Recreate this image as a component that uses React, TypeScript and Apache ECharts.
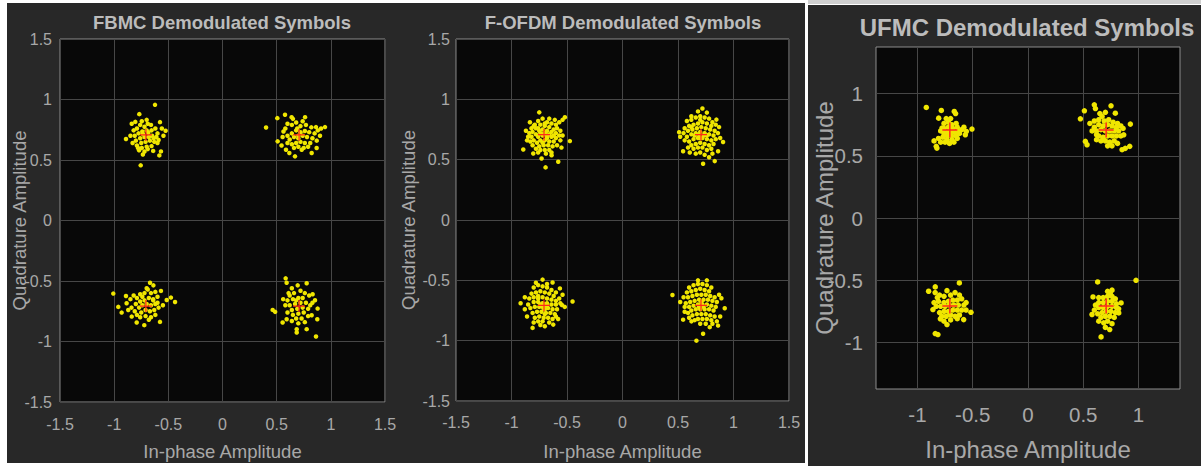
import React, { useEffect, useRef } from "react";
import * as echarts from "echarts";

// ---------- texts ----------
const TITLES = [
  "FBMC Demodulated Symbols",
  "F-OFDM Demodulated Symbols",
  "UFMC Demodulated Symbols",
];
const X_NAME = "In-phase Amplitude";
const Y_NAME = "Quadrature Amplitude";

// ---------- axes ----------
const RANGE_WIDE = [-1.5, 1.5];
const RANGE_UFMC = [-1.375, 1.375];
const TICKS_WIDE = [-1.5, -1, -0.5, 0, 0.5, 1, 1.5];
const TICKS_UFMC = [-1, -0.5, 0, 0.5, 1];

// ---------- ideal QPSK reference points ----------
const REF_POINTS = [
  [-0.7071, 0.7071],
  [0.7071, 0.7071],
  [-0.7071, -0.7071],
  [0.7071, -0.7071],
];

// ---------- FBMC demodulated symbols ----------
const fbmcTL = [[-0.623,0.956],[-0.768,0.879],[-0.755,0.456],[-0.891,0.673],[-0.525,0.742],[-0.568,0.571],[-0.583,0.538],[-0.577,0.813],[-0.838,0.799],[-0.700,0.832],[-0.745,0.820],[-0.690,0.800],[-0.660,0.790],[-0.720,0.775],[-0.790,0.760],[-0.820,0.745],[-0.850,0.700],[-0.810,0.700],[-0.775,0.720],[-0.740,0.735],[-0.700,0.745],[-0.655,0.745],[-0.620,0.760],[-0.600,0.720],[-0.560,0.760],[-0.545,0.700],[-0.610,0.690],[-0.650,0.700],[-0.680,0.690],[-0.720,0.690],[-0.760,0.680],[-0.800,0.660],[-0.830,0.640],[-0.790,0.620],[-0.750,0.640],[-0.710,0.650],[-0.670,0.660],[-0.630,0.650],[-0.600,0.640],[-0.655,0.615],[-0.700,0.610],[-0.745,0.600],[-0.770,0.580],[-0.720,0.570],[-0.690,0.590],[-0.640,0.575],[-0.735,0.715],[-0.685,0.725],[-0.760,0.790],[-0.805,0.815],[-0.635,0.680],[-0.590,0.665],[-0.735,0.545],[-0.780,0.600]];
const fbmcTR = [[0.402,0.769],[0.506,0.846],[0.577,0.874],[0.638,0.854],[0.762,0.854],[0.946,0.772],[0.863,0.772],[0.509,0.654],[0.669,0.530],[0.617,0.558],[0.586,0.585],[0.869,0.599],[0.823,0.558],[0.731,0.585],[0.563,0.736],[0.600,0.800],[0.640,0.790],[0.680,0.810],[0.720,0.780],[0.770,0.790],[0.820,0.770],[0.880,0.745],[0.910,0.760],[0.850,0.720],[0.800,0.730],[0.760,0.740],[0.720,0.730],[0.680,0.745],[0.640,0.720],[0.600,0.700],[0.555,0.690],[0.620,0.670],[0.660,0.690],[0.700,0.680],[0.740,0.700],[0.780,0.690],[0.830,0.680],[0.870,0.660],[0.900,0.700],[0.810,0.640],[0.760,0.640],[0.720,0.650],[0.680,0.640],[0.640,0.630],[0.600,0.640],[0.700,0.610],[0.750,0.600],[0.660,0.600],[0.790,0.610],[0.545,0.620],[0.700,0.700],[0.690,0.760],[0.740,0.820],[0.650,0.840],[0.580,0.760]];
const fbmcBL = [[-1.008,-0.604],[-0.962,-0.714],[-0.931,-0.761],[-0.891,-0.624],[-0.669,-0.514],[-0.638,-0.536],[-0.568,-0.582],[-0.515,-0.657],[-0.476,-0.637],[-0.438,-0.673],[-0.577,-0.838],[-0.722,-0.865],[-0.792,-0.843],[-0.838,-0.794],[-0.885,-0.684],[-0.850,-0.650],[-0.820,-0.620],[-0.790,-0.640],[-0.760,-0.610],[-0.720,-0.600],[-0.690,-0.570],[-0.660,-0.600],[-0.620,-0.590],[-0.600,-0.630],[-0.640,-0.650],[-0.680,-0.640],[-0.720,-0.660],[-0.760,-0.670],[-0.800,-0.690],[-0.840,-0.720],[-0.810,-0.750],[-0.770,-0.720],[-0.740,-0.700],[-0.700,-0.690],[-0.660,-0.700],[-0.620,-0.690],[-0.590,-0.720],[-0.630,-0.740],[-0.670,-0.750],[-0.710,-0.740],[-0.750,-0.760],[-0.790,-0.780],[-0.760,-0.800],[-0.710,-0.790],[-0.660,-0.800],[-0.620,-0.780],[-0.600,-0.680],[-0.550,-0.700],[-0.700,-0.560],[-0.740,-0.630],[-0.870,-0.740],[-0.680,-0.820],[-0.640,-0.660]];
const fbmcBR = [[0.583,-0.478],[0.592,-0.514],[0.463,-0.739],[0.486,-0.755],[0.555,-0.843],[0.685,-0.898],[0.685,-0.926],[0.777,-0.898],[0.863,-0.959],[0.875,-0.816],[0.878,-0.728],[0.854,-0.659],[0.832,-0.610],[0.777,-0.519],[0.694,-0.536],[0.592,-0.816],[0.823,-0.783],[0.640,-0.560],[0.610,-0.600],[0.660,-0.600],[0.720,-0.580],[0.760,-0.600],[0.800,-0.620],[0.740,-0.640],[0.700,-0.640],[0.650,-0.650],[0.600,-0.660],[0.580,-0.700],[0.620,-0.700],[0.670,-0.690],[0.720,-0.680],[0.770,-0.680],[0.810,-0.700],[0.790,-0.730],[0.740,-0.720],[0.690,-0.730],[0.640,-0.740],[0.600,-0.760],[0.650,-0.780],[0.700,-0.770],[0.750,-0.760],[0.790,-0.790],[0.730,-0.810],[0.680,-0.810],[0.640,-0.830],[0.700,-0.850],[0.760,-0.840],[0.620,-0.620],[0.680,-0.660],[0.560,-0.650],[0.830,-0.680]];

// ---------- F-OFDM demodulated symbols ----------
const fofdmTL = [[-0.750,0.892],[-0.894,0.584],[-0.693,0.436],[-0.579,0.483],[-0.474,0.654],[-0.519,0.851],[-0.540,0.830],[-0.834,0.810],[-0.729,0.510],[-0.804,0.551],[-0.639,0.537],[-0.820,0.760],[-0.790,0.790],[-0.760,0.820],[-0.720,0.840],[-0.680,0.810],[-0.640,0.800],[-0.600,0.790],[-0.570,0.810],[-0.590,0.760],[-0.620,0.750],[-0.660,0.770],[-0.700,0.780],[-0.740,0.790],[-0.780,0.760],[-0.810,0.730],[-0.840,0.720],[-0.850,0.690],[-0.820,0.690],[-0.780,0.710],[-0.750,0.740],[-0.720,0.750],[-0.680,0.740],[-0.640,0.730],[-0.600,0.720],[-0.570,0.700],[-0.560,0.660],[-0.600,0.680],[-0.640,0.690],[-0.680,0.700],[-0.720,0.710],[-0.760,0.690],[-0.800,0.660],[-0.830,0.650],[-0.810,0.620],[-0.770,0.640],[-0.740,0.660],[-0.700,0.660],[-0.660,0.650],[-0.620,0.650],[-0.590,0.620],[-0.630,0.610],[-0.670,0.620],[-0.710,0.620],[-0.750,0.610],[-0.780,0.590],[-0.740,0.580],[-0.700,0.580],[-0.660,0.580],[-0.640,0.560],[-0.690,0.550],[-0.720,0.700],[-0.700,0.720],[-0.740,0.720],[-0.660,0.710],[-0.620,0.700],[-0.760,0.760],[-0.700,0.800],[-0.660,0.840],[-0.610,0.830],[-0.560,0.740],[-0.540,0.700],[-0.870,0.740],[-0.860,0.660],[-0.720,0.640],[-0.680,0.680],[-0.760,0.560],[-0.800,0.780],[-0.550,0.600]];
const fofdmTR = [[0.720,0.924],[0.510,0.728],[0.906,0.646],[0.861,0.570],[0.831,0.488],[0.726,0.466],[0.546,0.570],[0.606,0.559],[0.846,0.832],[0.680,0.900],[0.760,0.890],[0.620,0.860],[0.580,0.820],[0.620,0.830],[0.660,0.850],[0.700,0.860],[0.740,0.850],[0.780,0.840],[0.810,0.810],[0.840,0.790],[0.800,0.780],[0.760,0.800],[0.720,0.810],[0.680,0.800],[0.640,0.790],[0.600,0.780],[0.560,0.760],[0.550,0.720],[0.590,0.740],[0.630,0.750],[0.670,0.760],[0.710,0.770],[0.750,0.760],[0.790,0.750],[0.830,0.740],[0.860,0.720],[0.820,0.700],[0.780,0.710],[0.740,0.720],[0.700,0.730],[0.660,0.720],[0.620,0.710],[0.580,0.690],[0.560,0.660],[0.600,0.650],[0.640,0.670],[0.680,0.680],[0.720,0.680],[0.760,0.670],[0.800,0.660],[0.840,0.670],[0.820,0.630],[0.780,0.620],[0.740,0.630],[0.700,0.640],[0.660,0.630],[0.620,0.620],[0.590,0.600],[0.640,0.590],[0.680,0.600],[0.720,0.600],[0.760,0.580],[0.800,0.590],[0.700,0.560],[0.660,0.550],[0.740,0.540],[0.780,0.520],[0.690,0.710],[0.730,0.700],[0.650,0.700],[0.700,0.680],[0.870,0.770],[0.880,0.680],[0.520,0.690],[0.700,0.830],[0.760,0.700],[0.620,0.770],[0.810,0.550]];
const fofdmBL = [[-0.720,-0.494],[-0.630,-0.518],[-0.450,-0.676],[-0.918,-0.690],[-0.810,-0.894],[-0.624,-0.867],[-0.546,-0.704],[-0.564,-0.567],[-0.880,-0.640],[-0.860,-0.800],[-0.700,-0.880],[-0.580,-0.820],[-0.800,-0.560],[-0.760,-0.540],[-0.720,-0.550],[-0.680,-0.560],[-0.640,-0.580],[-0.600,-0.600],[-0.620,-0.630],[-0.660,-0.610],[-0.700,-0.600],[-0.740,-0.590],[-0.780,-0.600],[-0.820,-0.610],[-0.840,-0.650],[-0.800,-0.640],[-0.760,-0.630],[-0.720,-0.640],[-0.680,-0.650],[-0.640,-0.660],[-0.600,-0.670],[-0.570,-0.650],[-0.560,-0.690],[-0.600,-0.700],[-0.640,-0.700],[-0.680,-0.690],[-0.720,-0.690],[-0.760,-0.680],[-0.800,-0.680],[-0.850,-0.700],[-0.830,-0.730],[-0.790,-0.720],[-0.750,-0.720],[-0.710,-0.730],[-0.670,-0.730],[-0.630,-0.740],[-0.590,-0.740],[-0.610,-0.780],[-0.650,-0.770],[-0.690,-0.770],[-0.730,-0.760],[-0.770,-0.760],[-0.810,-0.770],[-0.790,-0.810],[-0.750,-0.800],[-0.710,-0.810],[-0.670,-0.810],[-0.630,-0.820],[-0.660,-0.850],[-0.720,-0.840],[-0.760,-0.840],[-0.800,-0.850],[-0.740,-0.870],[-0.700,-0.700],[-0.720,-0.720],[-0.680,-0.710],[-0.740,-0.700],[-0.700,-0.740],[-0.520,-0.720],[-0.540,-0.620],[-0.880,-0.740],[-0.600,-0.800],[-0.780,-0.520],[-0.680,-0.530],[-0.700,-0.780],[-0.760,-0.650]];
const fofdmBR = [[0.450,-0.622],[0.666,-1.000],[0.726,-0.943],[0.861,-0.875],[0.921,-0.731],[0.891,-0.649],[0.546,-0.826],[0.786,-0.888],[0.621,-0.840],[0.880,-0.800],[0.560,-0.760],[0.600,-0.560],[0.640,-0.540],[0.680,-0.530],[0.720,-0.530],[0.760,-0.540],[0.800,-0.560],[0.780,-0.590],[0.740,-0.580],[0.700,-0.570],[0.660,-0.580],[0.620,-0.590],[0.580,-0.600],[0.550,-0.640],[0.590,-0.640],[0.630,-0.630],[0.670,-0.620],[0.710,-0.620],[0.750,-0.620],[0.790,-0.630],[0.830,-0.640],[0.850,-0.680],[0.810,-0.670],[0.770,-0.660],[0.730,-0.660],[0.690,-0.660],[0.650,-0.670],[0.610,-0.680],[0.570,-0.690],[0.560,-0.720],[0.600,-0.720],[0.640,-0.710],[0.680,-0.700],[0.720,-0.700],[0.760,-0.700],[0.800,-0.710],[0.840,-0.720],[0.820,-0.750],[0.780,-0.740],[0.740,-0.740],[0.700,-0.740],[0.660,-0.740],[0.620,-0.750],[0.590,-0.770],[0.630,-0.790],[0.670,-0.780],[0.710,-0.780],[0.750,-0.780],[0.790,-0.790],[0.830,-0.800],[0.800,-0.830],[0.760,-0.820],[0.720,-0.820],[0.680,-0.820],[0.650,-0.830],[0.700,-0.860],[0.750,-0.860],[0.810,-0.860],[0.690,-0.720],[0.730,-0.720],[0.710,-0.680],[0.760,-0.500],[0.680,-0.500],[0.870,-0.620],[0.520,-0.680],[0.850,-0.840],[0.600,-0.810]];

// ---------- UFMC demodulated symbols ----------
const ufmcTL = [[-0.920,0.889],[-0.784,0.865],[-0.808,0.803],[-0.667,0.857],[-0.655,0.840],[-0.558,0.696],[-0.507,0.715],[-0.567,0.669],[-0.830,0.576],[-0.824,0.562],[-0.733,0.629],[-0.688,0.629],[-0.778,0.723],[-0.760,0.760],[-0.720,0.770],[-0.690,0.750],[-0.650,0.760],[-0.640,0.730],[-0.680,0.720],[-0.720,0.730],[-0.760,0.720],[-0.790,0.700],[-0.760,0.680],[-0.730,0.690],[-0.700,0.690],[-0.660,0.690],[-0.630,0.700],[-0.650,0.660],[-0.690,0.660],[-0.730,0.660],[-0.770,0.650],[-0.810,0.640],[-0.790,0.610],[-0.750,0.610],[-0.710,0.600],[-0.670,0.610],[-0.640,0.640],[-0.620,0.680],[-0.600,0.710],[-0.740,0.800],[-0.700,0.800],[-0.580,0.730],[-0.850,0.620]];
const ufmcTR = [[0.474,0.798],[0.510,0.862],[0.600,0.910],[0.610,0.880],[0.751,0.902],[0.790,0.843],[0.926,0.755],[0.920,0.576],[0.851,0.549],[0.880,0.560],[0.534,0.589],[0.519,0.616],[0.866,0.669],[0.670,0.817],[0.560,0.760],[0.600,0.780],[0.640,0.790],[0.690,0.780],[0.730,0.790],[0.770,0.770],[0.810,0.760],[0.840,0.740],[0.800,0.730],[0.760,0.740],[0.720,0.750],[0.680,0.740],[0.640,0.750],[0.600,0.730],[0.580,0.700],[0.620,0.700],[0.660,0.710],[0.700,0.700],[0.740,0.700],[0.780,0.700],[0.820,0.700],[0.840,0.660],[0.800,0.660],[0.760,0.660],[0.720,0.660],[0.680,0.650],[0.640,0.660],[0.620,0.630],[0.660,0.620],[0.700,0.620],[0.740,0.610],[0.780,0.620],[0.760,0.580],[0.720,0.580],[0.810,0.600],[0.700,0.850],[0.650,0.840],[0.620,0.670],[0.860,0.720]];
const ufmcBL = [[-0.899,-0.589],[-0.839,-0.554],[-0.733,-0.584],[-0.621,-0.522],[-0.516,-0.758],[-0.582,-0.817],[-0.733,-0.857],[-0.839,-0.929],[-0.815,-0.937],[-0.793,-0.811],[-0.860,-0.736],[-0.840,-0.600],[-0.800,-0.620],[-0.760,-0.630],[-0.700,-0.620],[-0.660,-0.600],[-0.620,-0.620],[-0.600,-0.650],[-0.640,-0.660],[-0.680,-0.660],[-0.720,-0.670],[-0.760,-0.680],[-0.810,-0.670],[-0.850,-0.680],[-0.830,-0.710],[-0.790,-0.710],[-0.750,-0.710],[-0.710,-0.700],[-0.670,-0.700],[-0.630,-0.700],[-0.580,-0.700],[-0.560,-0.740],[-0.600,-0.740],[-0.640,-0.740],[-0.680,-0.740],[-0.720,-0.750],[-0.760,-0.750],[-0.800,-0.760],[-0.780,-0.790],[-0.740,-0.790],[-0.700,-0.780],[-0.660,-0.790],[-0.620,-0.780],[-0.700,-0.820],[-0.640,-0.810],[-0.760,-0.830],[-0.820,-0.640],[-0.560,-0.680]];
const ufmcBR = [[0.977,-0.501],[0.630,-0.514],[0.588,-0.635],[0.661,-0.956],[0.739,-0.897],[0.842,-0.683],[0.821,-0.763],[0.745,-0.602],[0.579,-0.776],[0.685,-0.843],[0.760,-0.580],[0.720,-0.590],[0.640,-0.640],[0.680,-0.640],[0.720,-0.630],[0.760,-0.630],[0.790,-0.650],[0.800,-0.690],[0.760,-0.670],[0.720,-0.670],[0.680,-0.680],[0.640,-0.680],[0.610,-0.700],[0.600,-0.740],[0.640,-0.720],[0.680,-0.720],[0.720,-0.710],[0.760,-0.710],[0.800,-0.720],[0.790,-0.760],[0.750,-0.750],[0.710,-0.750],[0.670,-0.760],[0.630,-0.770],[0.660,-0.800],[0.700,-0.790],[0.740,-0.790],[0.780,-0.800],[0.720,-0.830],[0.760,-0.850],[0.700,-0.880],[0.640,-0.830],[0.820,-0.730]];

const PANEL_DATA = [
  [...fbmcTL, ...fbmcTR, ...fbmcBL, ...fbmcBR],
  [...fofdmTL, ...fofdmTR, ...fofdmBL, ...fofdmBR],
  [...ufmcTL, ...ufmcTR, ...ufmcBL, ...ufmcBR],
];
const PANEL_RANGES = [RANGE_WIDE, RANGE_WIDE, RANGE_UFMC];
const PANEL_TICKS = [TICKS_WIDE, TICKS_WIDE, TICKS_UFMC];

// ---------- layout / style (not data) ----------
const FONT = "'Liberation Sans', Arial, Helvetica, sans-serif";
const LAYOUT = [
  { left: 60, top: 39, width: 325, height: 364, titleX: 222, titleY: 13, titleSize: 18.5, tick: 16, nameSize: 18.5, xMargin: 14, yMargin: 8, xGap: 40, yGap: 31, dot: 4.5, cross: 12 },
  { left: 456, top: 39, width: 333, height: 365, titleX: 623, titleY: 13, titleSize: 18.5, tick: 16, nameSize: 18.5, xMargin: 13, yMargin: 6, xGap: 41, yGap: 38, dot: 4.5, cross: 12 },
  { left: 876, top: 47, width: 304, height: 343, titleX: 1027, titleY: 15, titleSize: 24, tick: 20.5, nameSize: 24, xMargin: 15, yMargin: 13, xGap: 48, yGap: 40, dot: 5.5, cross: 15 },
];
const PANEL_BG = "#282828";
const PLOT_BG = "#080808";
const GRID_LINE = "#474747";
const BORDER = "#8c8c8c";
const LABEL_COLOR = "#a8a8a8";
const TITLE_COLOR = "#bcbcbc";
const DOT_COLOR = "#f0e600";
const CROSS_COLOR = "#ff2a1a";
const CROSS_PATH = "path://M-1,-10 H1 V-1 H10 V1 H1 V10 H-1 V1 H-10 V-1 H-1 Z";

function buildOption() {
  const grid: any[] = [];
  const xAxis: any[] = [];
  const yAxis: any[] = [];
  const series: any[] = [];
  const title: any[] = [];
  LAYOUT.forEach((L, i) => {
    const [mn, mx] = PANEL_RANGES[i];
    const ticks = PANEL_TICKS[i];
    grid.push({
      left: L.left, top: L.top, width: L.width, height: L.height,
      show: true, backgroundColor: PLOT_BG, borderColor: BORDER, borderWidth: 1,
      containLabel: false,
    });
    title.push({
      text: TITLES[i], left: L.titleX, top: L.titleY, textAlign: "center", padding: 0,
      textStyle: { color: TITLE_COLOR, fontSize: L.titleSize, fontWeight: "bold", fontFamily: FONT },
    });
    const axisCommon = (margin: number) => ({
      type: "value", min: mn, max: mx,
      axisLine: { show: false },
      axisTick: { show: false, customValues: ticks },
      splitLine: { show: true, lineStyle: { color: GRID_LINE, width: 1 } },
      axisLabel: {
        color: LABEL_COLOR, fontSize: L.tick, fontFamily: FONT, margin,
        customValues: ticks, formatter: (v: number) => String(v), hideOverlap: false,
      },
      nameLocation: "middle",
      nameMoveOverlap: false,
      nameTextStyle: { color: LABEL_COLOR, fontSize: L.nameSize, fontFamily: FONT },
    });
    xAxis.push({ ...axisCommon(L.xMargin), gridIndex: i, name: X_NAME, nameGap: L.xGap });
    yAxis.push({ ...axisCommon(L.yMargin), gridIndex: i, name: Y_NAME, nameGap: L.yGap });
    series.push({
      type: "scatter", xAxisIndex: i, yAxisIndex: i, data: PANEL_DATA[i],
      symbol: "circle", symbolSize: L.dot, itemStyle: { color: DOT_COLOR, opacity: 1 },
      silent: true, z: 2,
    });
    series.push({
      type: "scatter", xAxisIndex: i, yAxisIndex: i, data: REF_POINTS,
      symbol: CROSS_PATH, symbolSize: L.cross, itemStyle: { color: CROSS_COLOR, opacity: 1 },
      silent: true, z: 3,
    });
  });
  return {
    animation: false,
    backgroundColor: "#ffffff",
    title, grid, xAxis, yAxis, series,
    graphic: [
      { type: "rect", z: -100, silent: true, shape: { x: 7, y: 3, width: 798, height: 460 }, style: { fill: PANEL_BG } },
      { type: "rect", z: -100, silent: true, shape: { x: 808, y: 5, width: 393, height: 461 }, style: { fill: PANEL_BG } },
      { type: "rect", z: -100, silent: true, shape: { x: 808, y: 0, width: 393, height: 4 }, style: { fill: "#cfcfcf" } },
    ],
  };
}

export default function App() {
  const ref = useRef<HTMLDivElement>(null);
  useEffect(() => {
    document.body.style.margin = "0";
    if (!ref.current) return;
    const chart = echarts.init(ref.current, undefined, { renderer: "svg" });
    chart.setOption(buildOption() as any);
    return () => chart.dispose();
  }, []);
  return <div ref={ref} style={{ width: 1201, height: 466 }} />;
}
